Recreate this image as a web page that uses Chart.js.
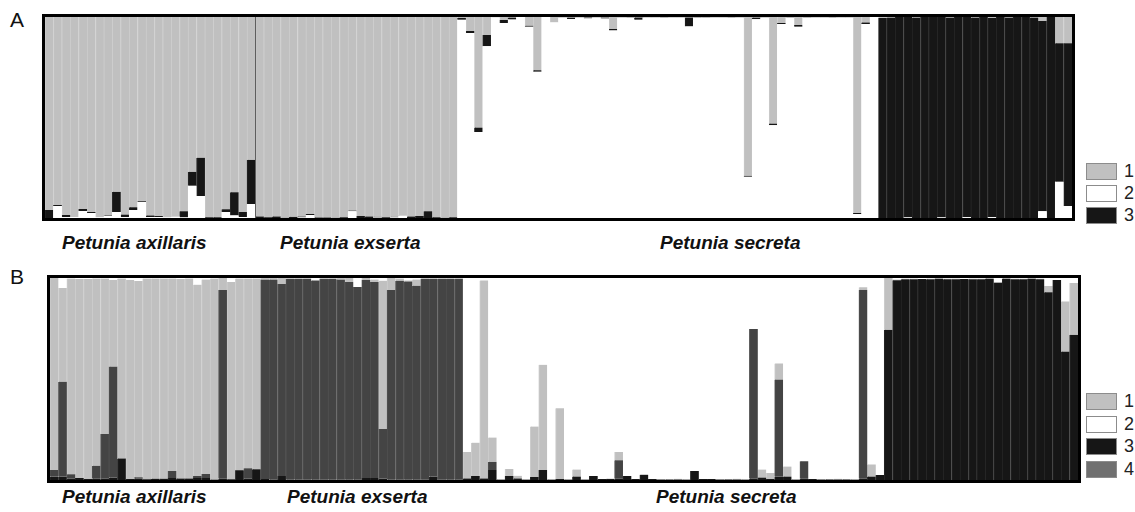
<!DOCTYPE html>
<html>
<head>
<meta charset="utf-8">
<script src="https://cdn.jsdelivr.net/npm/chart.js@4.4.1/dist/chart.umd.min.js"></script>
<style>
  body { margin: 0; background: #fff; font-family: "Liberation Sans", Arial, sans-serif; }
  #page { position: relative; width: 1135px; height: 512px; overflow: hidden; }
  canvas { position: absolute; }
  .letter { position: absolute; left: 10px; font-size: 21px; line-height: 22px; color: #111; }
  .species { position: absolute; font-size: 19px; line-height: 22px; font-weight: bold; font-style: italic; color: #111; white-space: nowrap; }
  .legend { position: absolute; left: 1086px; }
  .legend-row { position: absolute; left: 0; display: flex; align-items: center; white-space: nowrap; }
  .swatch { width: 31px; height: 17px; box-sizing: border-box; border: 1px solid #8c8c8c; margin-right: 7px; }
  .legend-row span { font-size: 18px; color: #222; }
</style>
</head>
<body>
<div id="page">
  <div class="letter" style="top:9px">A</div>
  <div class="letter" style="top:266px">B</div>
  <canvas id="chartA" width="1037" height="211" style="left:40px; top:12px"></canvas>
  <canvas id="chartB" width="1038" height="212" style="left:45px; top:273px"></canvas>
  <div id="labelsA"></div>
  <div id="labelsB"></div>
  <div class="legend" id="legendA" style="top:161px"></div>
  <div class="legend" id="legendB" style="top:391px"></div>
</div>
<script>
// 122 individuals: 25 P. axillaris, 24 P. exserta, 50 P. secreta (white cluster), 23 (black cluster)
const groupSizes = [25, 24, 50, 23];
const sampleIds = [];
for (let i = 1; i <= 122; i++) sampleIds.push('ind' + i);

const speciesA = ['Petunia axillaris', 'Petunia exserta', 'Petunia secreta'];
const speciesLeftA = [62, 280, 660];
const speciesLeftB = [62, 287, 656];

// ---- panel A, K = 3 ----
const A_k1 = [
  0.96,0.935,0.985,0.995,0.955,0.97,0.997,0.987,0.87,0.983,0.947,0.917,0.987,0.99,0.997,0.99,0.967,0.77,0.70,0.996,0.996,0.957,0.872,0.97,0.71,
  0.992,0.996,0.992,0.995,0.994,0.993,0.98,0.997,0.997,0.995,0.996,0.963,0.99,0.992,0.994,0.996,0.994,0.985,0.992,0.99,0.967,0.996,0.995,0.996,
  0.004,0.07,0.55,0.09,0.003,0.015,0.003,0,0.043,0.265, 0,0.027,0,0.003,0,0.002,0,0.003,0.06,0,
  0.002,0.002,0,0,0.002,0,0,0.002,0,0.002, 0,0,0.002,0,0.79,0.003,0,0.53,0.03,0.002,
  0.04,0.002,0,0,0.002,0,0,0.975,0.027,0,
  0.005,0.003,0,0,0.003,0,0,0,0.003,0,0,0.003,0,0.004,0,0.003,0,0,0.003,0.02,0,0.13,0.13
];
const A_k2 = [
  0,0.06,0.005,0.005,0.035,0.025,0.003,0.01,0.03,0.005,0.04,0.08,0.005,0.005,0.003,0.008,0.003,0.16,0.11,0,0,0.03,0.013,0.005,0.07,
  0,0,0,0.002,0,0.003,0.015,0,0,0.002,0,0.033,0,0,0.002,0,0.003,0.013,0,0,0,0,0.002,0,
  0.986,0.92,0.428,0.855,0.997,0.97,0.987,1,0.952,0.728, 1,0.973,0.998,0.99,0.998,0.993,0.998,0.992,0.933,0.998,
  0.996,0.986,0.998,0.998,0.996,0.998,0.998,0.953,0.997,0.996, 0.998,0.998,0.996,0.998,0.205,0.989,0.998,0.462,0.965,0.996,
  0.952,0.996,0.998,0.998,0.996,0.998,0.998,0.02,0.965,1,
  0,0,0,0.003,0,0,0,0.003,0,0,0.004,0,0,0.004,0,0,0,0,0,0.033,0,0.18,0.06
];
const A_k3 = [
  0.04,0.005,0.01,0,0.01,0.005,0,0.003,0.1,0.012,0.013,0.003,0.008,0.005,0,0.002,0.03,0.07,0.19,0.004,0.004,0.013,0.115,0.025,0.22,
  0.008,0.004,0.008,0.003,0.006,0.004,0.005,0.003,0.003,0.003,0.004,0.004,0.01,0.008,0.004,0.004,0.003,0.002,0.008,0.01,0.033,0.004,0.003,0.004,
  0.01,0.01,0.022,0.055,0,0.015,0.01,0,0.005,0.007, 0,0,0.002,0.007,0.002,0.005,0.002,0.005,0.007,0.002,
  0.002,0.012,0.002,0.002,0.002,0.002,0.002,0.045,0.003,0.002, 0.002,0.002,0.002,0.002,0.005,0.008,0.002,0.008,0.005,0.002,
  0.008,0.002,0.002,0.002,0.002,0.002,0.002,0.005,0.008,0,
  0.995,0.997,1,0.997,0.997,1,1,0.997,0.997,1,0.996,0.997,1,0.992,1,0.997,1,1,0.997,0.947,1,0.69,0.81
];

// ---- panel B, K = 4 ----
const B_k1 = [
  0.95,0.463,0.969,0.985,0.99,0.926,0.769,0.428,0.89,0.985,0.972,0.991,0.989,0.989,0.952,0.986,0.988,0.947,0.962,0.995,0.06,0.976,0.947,0.939,0.944,
  0.008,0.008,0.03,0.005,0.005,0.005,0,0.005,0.005,0.008,0.02,0,0.01,0.012,0.735,0.06,0.01,0.005,0.03,0.005,0.005,0.005,0.005,0.005,
  0.13,0.165,0.98,0.12,0,0.035,0.013,0,0.25,0.52, 0,0.35,0,0.035,0,0,0,0.002,0.04,0,
  0,0.003,0,0,0,0.003,0,0,0,0, 0,0.002,0.003,0,0,0.04,0.03,0.08,0.05,0,
  0,0,0,0.002,0.003,0.002,0,0.012,0.06,0,
  0.256,0.003,0.003,0.003,0,0.003,0,0.003,0.003,0,0.003,0.003,0,0.003,0,0.003,0.003,0,0.003,0.03,0,0.248,0.256
];
const B_k2 = [
  0,0.05,0.003,0.005,0.005,0.003,0.003,0.01,0.003,0.01,0.015,0.003,0.003,0.003,0.003,0.005,0.003,0.033,0.008,0.003,0,0.02,0.003,0.003,0.003,
  0,0,0,0,0,0,0.012,0,0,0,0,0.045,0,0.008,0.013,0,0.003,0.012,0.008,0,0,0,0,0,
  0.862,0.815,0.012,0.79,0.998,0.945,0.979,0.998,0.735,0.43, 0.998,0.645,0.998,0.948,0.998,0.98,0.995,0.993,0.862,0.98,
  0.995,0.972,0.995,0.997,0.997,0.994,0.998,0.955,0.995,0.995, 0.997,0.995,0.994,0.998,0.252,0.948,0.965,0.423,0.933,0.998,
  0.907,0.995,0.997,0.995,0.994,0.995,0.998,0.046,0.923,0.975,
  0,0.008,0.003,0.003,0.005,0.003,0.003,0.003,0.003,0.005,0.003,0.003,0.003,0.02,0.003,0.003,0.003,0.003,0.003,0.04,0.01,0.116,0.025
];
const B_k3 = [
  0.017,0.017,0.008,0.01,0.005,0.008,0.008,0.012,0.107,0.005,0.008,0.004,0.006,0.006,0.01,0.007,0.007,0.01,0.01,0.002,0.008,0.004,0.045,0.008,0.053,
  0.005,0.003,0.02,0.003,0.003,0.003,0.003,0.003,0.003,0.003,0.003,0.003,0.01,0.01,0.007,0.003,0.003,0.003,0.003,0.003,0.017,0.003,0.003,0.003,
  0.008,0.02,0.008,0.05,0.002,0.02,0.008,0.002,0.015,0.05, 0.002,0.005,0.002,0.017,0.002,0.02,0.005,0.005,0.008,0.02,
  0.005,0.025,0.005,0.003,0.003,0.003,0.002,0.045,0.005,0.005, 0.003,0.003,0.003,0.002,0.008,0.012,0.005,0.017,0.017,0.002,
  0.008,0.005,0.003,0.003,0.003,0.003,0.002,0.008,0.017,0.025,
  0.744,0.989,0.994,0.994,0.995,0.994,0.997,0.994,0.994,0.995,0.994,0.994,0.997,0.977,0.997,0.994,0.994,0.997,0.994,0.93,0.99,0.636,0.719
];
const B_k4 = [
  0.033,0.47,0.02,0,0,0.063,0.22,0.55,0,0,0.005,0.002,0.002,0.002,0.035,0.002,0.002,0.01,0.02,0,0.932,0,0.005,0.05,0,
  0.987,0.989,0.95,0.992,0.992,0.992,0.985,0.992,0.992,0.989,0.977,0.952,0.98,0.97,0.245,0.937,0.984,0.98,0.959,0.992,0.978,0.992,0.992,0.992,
  0,0,0,0.04,0,0,0,0,0,0, 0,0,0,0,0,0,0,0,0.09,0,
  0,0,0,0,0,0,0,0,0,0, 0,0,0,0,0.74,0,0,0.48,0,0,
  0.085,0,0,0,0,0,0,0.934,0,0,
  0,0,0,0,0,0,0,0,0,0,0,0,0,0,0,0,0,0,0,0,0,0,0
];

const clusterColor = { '1': '#c0c0c0', '2': '#ffffff', '3': '#161616', '4': '#444444' };
const clusterEdge  = { '1': '#cdcdcd', '2': '#ffffff', '3': '#262626', '4': '#515151' };
const legendSwatch = { '1': '#c0c0c0', '2': '#ffffff', '3': '#161616', '4': '#707070' };

const framePlugin = {
    id: 'frame',
    afterDraw(chart, args, opts) {
        const ctx = chart.ctx;
        const a = chart.chartArea;
        const x = chart.scales.x;
        ctx.save();
        (opts.dividers || []).forEach(i => {
            const px = Math.round((x.getPixelForValue(i - 1) + x.getPixelForValue(i)) / 2) + 0.5;
            ctx.strokeStyle = '#5e5e5e';
            ctx.lineWidth = 1;
            ctx.beginPath();
            ctx.moveTo(px, a.top);
            ctx.lineTo(px, a.bottom);
            ctx.stroke();
        });
        ctx.lineWidth = 3;
        ctx.strokeStyle = '#000';
        ctx.strokeRect(a.left - 1.5, a.top - 1.5, a.right - a.left + 3, a.bottom - a.top + 3);
        ctx.restore();
    }
};

// bottom-to-top stacking order follows the dataset order
function structurePlot(canvasId, series, dividers) {
    return new Chart(document.getElementById(canvasId), {
        type: 'bar',
        data: {
            labels: sampleIds,
            datasets: series.map(s => ({
                label: s.k,
                data: s.data,
                backgroundColor: clusterColor[s.k],
                borderColor: clusterEdge[s.k],
                borderWidth: { left: 1, right: 0, top: 0, bottom: 0 },
                borderSkipped: false,
                barPercentage: 1,
                categoryPercentage: 1
            }))
        },
        options: {
            responsive: false,
            animation: false,
            events: [],
            layout: { padding: 5 },
            plugins: {
                legend: { display: false },
                tooltip: { enabled: false },
                frame: { dividers: dividers }
            },
            scales: {
                x: { stacked: true, display: false },
                y: { stacked: true, display: false, min: 0, max: 1 }
            }
        },
        plugins: [framePlugin]
    });
}

structurePlot('chartA', [
    { k: '2', data: A_k2 },
    { k: '3', data: A_k3 },
    { k: '1', data: A_k1 }
], [groupSizes[0]]);

structurePlot('chartB', [
    { k: '3', data: B_k3 },
    { k: '4', data: B_k4 },
    { k: '1', data: B_k1 },
    { k: '2', data: B_k2 }
], []);

function speciesLabels(el, lefts, top) {
    speciesA.forEach((name, i) => {
        const d = document.createElement('div');
        d.className = 'species';
        d.style.left = lefts[i] + 'px';
        d.style.top = top + 'px';
        d.textContent = name;
        el.appendChild(d);
    });
}
speciesLabels(document.getElementById('labelsA'), speciesLeftA, 232);
speciesLabels(document.getElementById('labelsB'), speciesLeftB, 486);

function legend(el, keys, pitch) {
    keys.forEach((k, i) => {
        const row = document.createElement('div');
        row.className = 'legend-row';
        row.style.top = (i * pitch) + 'px';
        row.innerHTML = '<div class="swatch" style="background:' + legendSwatch[k] + '"></div><span>' + k + '</span>';
        el.appendChild(row);
    });
}
legend(document.getElementById('legendA'), ['1', '2', '3'], 21.8);
legend(document.getElementById('legendB'), ['1', '2', '3', '4'], 22.6);
</script>
</body>
</html>
